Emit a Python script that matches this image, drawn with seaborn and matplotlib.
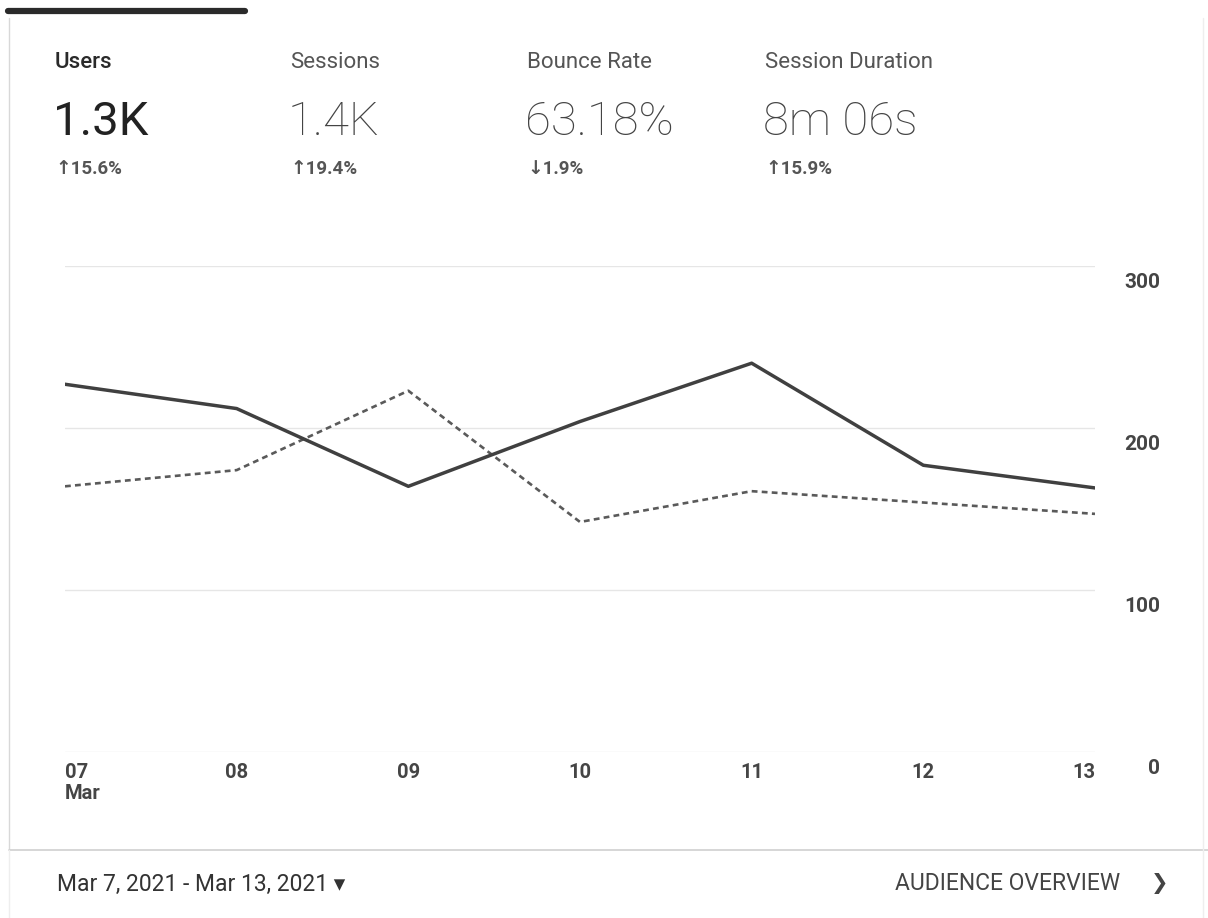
import matplotlib
matplotlib.use("Agg")
import matplotlib.pyplot as plt
import matplotlib.transforms as mtransforms
from matplotlib.lines import Line2D
import seaborn as sns
import pandas as pd

days = ["07", "08", "09", "10", "11", "12", "13"]
users_current = [227, 212, 164, 204, 240, 177, 163]
users_previous = [164, 174, 223, 142, 161, 154, 147]
y_ticks = [0, 100, 200, 300]

metric_names = ["Users", "Sessions", "Bounce Rate", "Session Duration"]
metric_values = ["1.3K", "1.4K", "63.18%", "8m 06s"]
metric_changes = ["\u219115.6%", "\u219119.4%", "\u21931.9%", "\u219115.9%"]

sns.set_theme(style="white")
plt.rcParams["font.family"] = ["Roboto", "DejaVu Sans"]

W, H = 1208, 918
fig = plt.figure(figsize=(W / 100, H / 100), dpi=100)
fig.patch.set_facecolor("white")

def fx(px):
    return px / W

def fy(py):
    return 1 - py / H

# chart axes: x 0..6 -> px 65..1095, y 0..300 -> py 752..266
ax = fig.add_axes([fx(65), fy(752), fx(1095) - fx(65), fy(266) - fy(752)])
idx = list(range(len(days)))
df = pd.DataFrame({"day": idx, "current": users_current, "previous": users_previous})

sns.lineplot(data=df, x="day", y="previous", ax=ax, color="#5a5a5a",
             linewidth=1.9, linestyle=(0, (2.2, 1.6)))
sns.lineplot(data=df, x="day", y="current", ax=ax, color="#404040",
             linewidth=2.5)

ax.set_xlim(0, 6)
ax.set_ylim(0, 300)
for s in ax.spines.values():
    s.set_visible(False)
ax.set_facecolor("none")
ax.set_xlabel("")
ax.set_ylabel("")
ax.set_yticks(y_ticks)
for yv in y_ticks:
    ax.axhline(yv, color="#e6e6e6", linewidth=1.0, zorder=0)
ax.yaxis.tick_right()
ax.tick_params(axis="y", length=0, pad=47, labelsize=15, labelcolor="#454545")
ax.set_yticklabels([str(v) for v in y_ticks], fontweight="bold")
offset = mtransforms.ScaledTranslation(0, -14 / 100, fig.dpi_scale_trans)
for lab in ax.get_yticklabels():
    lab.set_transform(lab.get_transform() + offset)
    lab.set_ha("right")

xlabels = [d for d in days]
xlabels[0] = days[0] + "\nMar"
ax.set_xticks(idx)
ax.set_xticklabels(xlabels, fontweight="bold", linespacing=1.15)
ax.tick_params(axis="x", length=0, pad=8, labelsize=14.5, labelcolor="#454545")
xl = ax.get_xticklabels()
xl[0].set_ha("left")
xl[-1].set_ha("right")
for lab in ax.get_xticklabels():
    lab.set_va("top")

# header metrics
x_positions = [55, 290, 527, 765]
for i, (n, v, c) in enumerate(zip(metric_names, metric_values, metric_changes)):
    x = fx(x_positions[i])
    fig.text(x, fy(62), n, fontsize=16, color="#2a2a2a" if i == 0 else "#555555",
             fontweight="medium" if i == 0 else "normal", va="center", ha="left")
    fig.text(x - 0.002, fy(122), v, fontsize=34, color="#222222" if i == 0 else "#444444",
             fontweight="normal" if i == 0 else "light", va="center", ha="left")
    fig.text(x, fy(169), c, fontsize=13.5, color="#555555", fontweight="bold",
             va="center", ha="left", family=["Roboto", "DejaVu Sans"])

# footer
fig.text(fx(57), fy(884), "Mar 7, 2021 - Mar 13, 2021 \u25be", fontsize=16.5,
         color="#333333", va="center", ha="left", family=["Roboto", "DejaVu Sans"])
fig.text(fx(1120), fy(884), "AUDIENCE OVERVIEW", fontsize=16.5, color="#444444",
         va="center", ha="right")
fig.text(fx(1160), fy(884), "\u276f", fontsize=15, color="#444444", va="center",
         ha="center", family=["DejaVu Sans"])

# card decoration
fig.add_artist(Line2D([fx(8), fx(245)], [fy(11), fy(11)], color="#2a2a2a", linewidth=4.5))
fig.add_artist(Line2D([fx(9), fx(9)], [fy(18), fy(850)], color="#d8d8d8", linewidth=1.0))
fig.add_artist(Line2D([fx(9), fx(1208)], [fy(850), fy(850)], color="#cfcfcf", linewidth=1.2))
fig.add_artist(Line2D([fx(1203), fx(1203)], [fy(18), fy(918)], color="#eeeeee", linewidth=1.0))
fig.add_artist(Line2D([fx(9), fx(9)], [fy(850), fy(918)], color="#eeeeee", linewidth=1.0))

fig.savefig("out.png", dpi=100, facecolor="white")
